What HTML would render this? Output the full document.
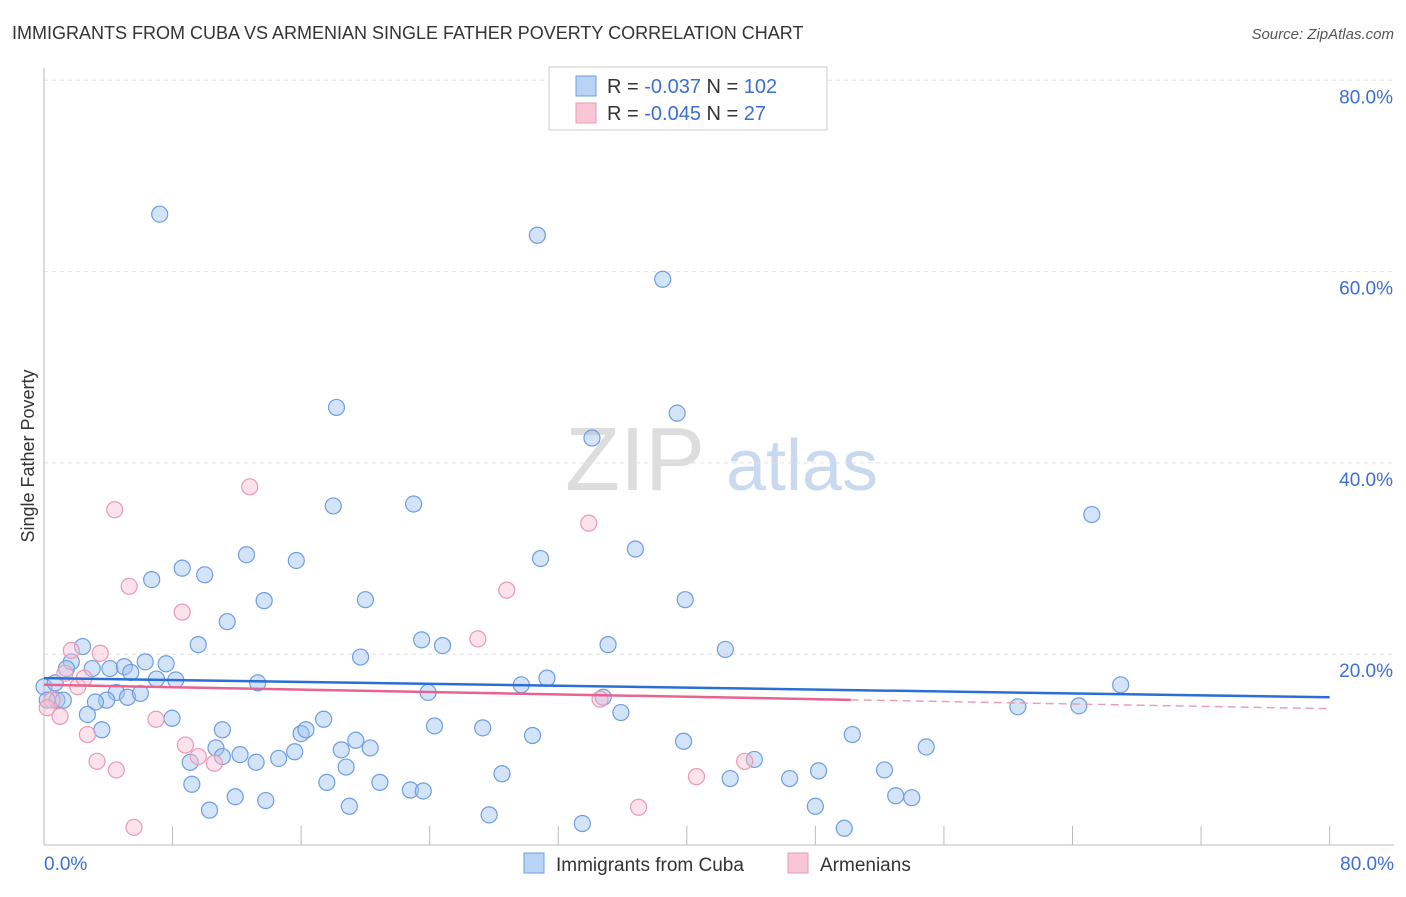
<!DOCTYPE html>
<html><head><meta charset="utf-8"><style>
body{margin:0;background:#fff;font-family:"Liberation Sans",sans-serif;}
svg text{font-family:"Liberation Sans",sans-serif;}
</style></head><body>
<svg id="c" width="1406" height="892">
<text x="12" y="39" font-size="18" fill="#333">IMMIGRANTS FROM CUBA VS ARMENIAN SINGLE FATHER POVERTY CORRELATION CHART</text>
<text x="1394" y="39" font-size="15" fill="#555" text-anchor="end" font-style="italic">Source: ZipAtlas.com</text>
<g><text x="635" y="490" font-size="90" fill="#ddd" text-anchor="middle" font-family="Liberation Serif">ZIP</text><text x="802" y="490" font-size="72" fill="#c9d9f0" text-anchor="middle">atlas</text></g>
<text transform="translate(34,456) rotate(-90)" font-size="18" fill="#333" text-anchor="middle">Single Father Poverty</text>
<g id="grid"></g><g id="marks"></g>
<g>
<rect x="549" y="67" width="278" height="63" fill="#fff" stroke="#ccc"/>
<rect x="576" y="76" width="20" height="20" fill="#b9d3f5" stroke="#6d9de0"/>
<rect x="576" y="103" width="20" height="20" fill="#f9c6d6" stroke="#e99ab4"/>
<text x="607" y="93" font-size="20" fill="#333">R = <tspan fill="#3b6fd4">-0.037</tspan>   N = <tspan fill="#3b6fd4">102</tspan></text>
<text x="607" y="120" font-size="20" fill="#333">R = <tspan fill="#3b6fd4">-0.045</tspan>   N =   <tspan fill="#3b6fd4">27</tspan></text>
</g>
<g>
<rect x="524" y="853" width="20" height="20" fill="#b9d3f5" stroke="#6d9de0"/>
<text x="556" y="871" font-size="19" fill="#333">Immigrants from Cuba</text>
<rect x="788" y="853" width="20" height="20" fill="#f9c6d6" stroke="#e99ab4"/>
<text x="820" y="871" font-size="19" fill="#333">Armenians</text>
</g>
</svg>
<script>
const blueX=[7.2,30.7,38.5,18.2,39.4,34.1,65.2,18.0,23.0,12.6,15.7,30.9,36.8,8.6,10.0,6.7,13.7,20.0,39.9,11.4,9.6,23.5,24.8,35.1,42.4,2.4,19.7,67.0,0,0.7,0.8,0.2,1.2,1.7,1.4,3.0,4.1,5.0,5.4,6.3,7.6,8.2,7.0,4.5,5.2,6.0,3.9,3.2,13.3,29.7,31.3,23.9,34.8,35.9,60.6,64.4,2.7,7.97,3.6,11.1,17.4,16.0,16.3,19.4,18.5,20.3,15.6,24.3,27.3,30.4,39.8,50.3,54.9,10.7,11.1,12.2,9.1,13.2,14.6,18.8,28.5,44.2,42.7,46.4,48.2,52.3,9.2,17.6,20.9,22.8,23.6,11.9,13.8,10.3,19.0,27.7,33.5,48.0,53.0,54.0,49.8];
const blueY=[66.0,63.8,59.2,45.8,45.2,42.6,34.6,35.5,35.7,30.4,29.8,30.0,31.0,29.0,28.3,27.8,25.6,25.7,25.7,23.4,21.0,21.5,20.9,21.0,20.5,20.8,19.7,16.8,16.6,17.0,15.2,15.2,15.2,19.2,18.5,18.5,18.5,18.7,18.1,19.2,19.0,17.3,17.4,16.0,15.5,15.9,15.2,15.0,17.0,16.8,17.5,16.0,15.5,13.9,14.5,14.6,13.7,13.3,12.1,12.1,13.2,11.7,12.1,11.0,10.0,10.2,9.8,12.5,12.3,11.5,10.9,11.6,10.3,10.2,9.3,9.5,8.7,8.7,9.1,8.2,7.5,9.0,7.0,7.0,7.8,7.9,6.4,6.6,6.6,5.8,5.7,5.1,4.7,3.7,4.1,3.2,2.3,4.1,5.2,5.0,1.8];
const pinkX=[4.4,12.8,33.9,5.3,28.8,8.6,27.0,1.7,3.5,2.1,2.5,1.3,0.5,0.2,1.0,2.7,6.97,8.8,9.6,10.6,3.3,4.5,5.6,34.6,43.6,40.6,37.0];
const pinkY=[35.1,37.5,33.7,27.1,26.7,24.4,21.6,20.4,20.1,16.6,17.5,18.0,15.2,14.4,13.5,11.6,13.2,10.5,9.3,8.6,8.8,7.9,1.9,15.3,8.8,7.2,4.0];
const blueLine=[17.5,15.5], pinkLine=[16.8,14.3];
const yTicks=[20,40,60,80];
const X=v=>44+v*16.07, Y=v=>845.5-v*9.565;
const NS="http://www.w3.org/2000/svg";
function mk(t,a,p){const e=document.createElementNS(NS,t);for(const k in a)e.setAttribute(k,a[k]);p.appendChild(e);return e;}
const g=document.getElementById('grid'),m=document.getElementById('marks');
yTicks.forEach(t=>{const l=mk('line',{x1:44,x2:1394,y1:Y(t),y2:Y(t),stroke:'#e2e2e2','stroke-dasharray':'4,4'},g);

const tx=mk('text',{x:1393,y:Y(t)+23,'font-size':19,fill:'#3b6fd4','text-anchor':'end'},g);tx.textContent=t.toFixed(1)+'%';
});
let ax=mk('line',{x1:44,x2:44,y1:68,y2:845,stroke:'#bbb'},g);
ax=mk('line',{x1:44,x2:1394,y1:845,y2:845,stroke:'#bbb'},g);
for(let i=1;i<=10;i++){const l=mk('line',{x1:X(i*8),x2:X(i*8),y1:826,y2:845,stroke:'#bbb'},g);}
let t1=mk('text',{x:44,y:870,'font-size':19,fill:'#3b6fd4'},g);t1.textContent='0.0%';
t1=mk('text',{x:1394,y:870,'font-size':19,fill:'#3b6fd4','text-anchor':'end'},g);t1.textContent='80.0%';
blueX.forEach((v,i)=>{const c=mk('circle',{cx:X(v),cy:Y(blueY[i]),r:8,fill:'rgba(160,196,240,0.45)',stroke:'#6d9de0','stroke-width':1.2},m);
});
pinkX.forEach((v,i)=>{const c=mk('circle',{cx:X(v),cy:Y(pinkY[i]),r:8,fill:'rgba(248,190,208,0.45)',stroke:'#e99ab4','stroke-width':1.2},m);
});
let l=mk('line',{x1:X(0),y1:Y(blueLine[0]),x2:X(80),y2:Y(blueLine[1]),stroke:'#2a6fd6','stroke-width':2.5},m);

const pAt=v=>pinkLine[0]+(pinkLine[1]-pinkLine[0])*v/80;
l=mk('line',{x1:X(0),y1:Y(pAt(0)),x2:X(50.2),y2:Y(pAt(50.2)),stroke:'#e8638f','stroke-width':2.5},m);

l=mk('line',{x1:X(50.2),y1:Y(pAt(50.2)),x2:X(80),y2:Y(pAt(80)),stroke:'#e8a0b8','stroke-width':1.5,'stroke-dasharray':'8,5'},m);

</script>
</body></html>
